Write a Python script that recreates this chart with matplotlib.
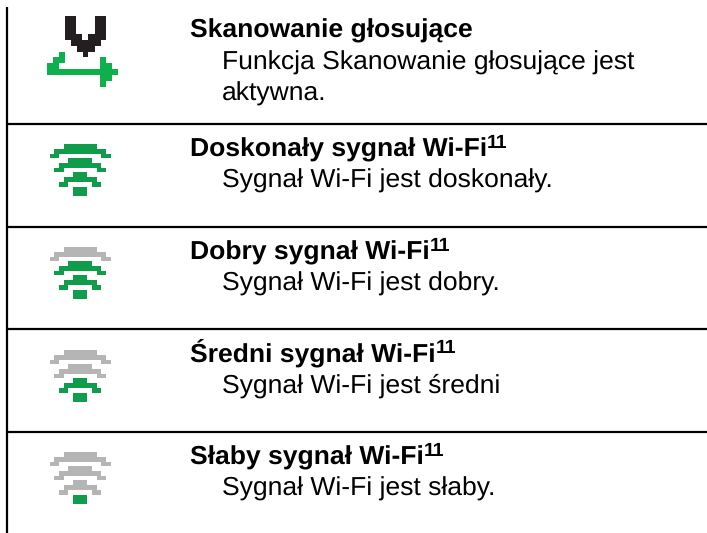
import matplotlib
matplotlib.use("Agg")
import matplotlib.pyplot as plt

# text of each table row
titles = ["Skanowanie głosujące", "Doskonały sygnał Wi-Fi", "Dobry sygnał Wi-Fi",
          "Średni sygnał Wi-Fi", "Słaby sygnał Wi-Fi"]
bodies = ["Funkcja Skanowanie głosujące jest\naktywna.", "Sygnał Wi-Fi jest doskonały.",
          "Sygnał Wi-Fi jest dobry.", "Sygnał Wi-Fi jest średni", "Sygnał Wi-Fi jest słaby."]
footnote = [None, "11", "11", "11", "11"]

title_y = [37, 156, 259, 361, 464]
body_y = [70, 188, 291, 393, 496]
rule_y = [124, 227, 329, 431.5]

# wifi icon, in pixels: (arc, top, height, [(left, width), ...])
wifi_rows = [
    (0, 0, 5, [(64, 33)]),
    (0, 5, 5, [(54, 52)]),
    (0, 10, 4, [(50, 9), (101, 10)]),
    (1, 14, 5, [(68, 24)]),
    (1, 19, 5, [(59, 42)]),
    (1, 24, 4, [(54, 10), (97, 9)]),
    (2, 28, 5, [(73, 14)]),
    (2, 33, 5, [(64, 33)]),
    (2, 38, 5, [(59, 9), (92, 9)]),
    (3, 43, 9, [(73, 14)]),
]
wifi_top = [144, 247, 350, 452]
wifi_lit = [0, 1, 2, 3]  # first arc that is green

# voice scan icon, in pixels: (top, height, [(left, width), ...])
voice_black = [
    (16, 18, [(65, 11), (95, 11)]),
    (34, 6, [(65, 17), (88, 18)]),
    (40, 6, [(71, 30)]),
    (46, 6, [(77, 18)]),
    (52, 5, [(83, 5)]),
]
voice_green = [
    (52, 5, [(59, 6)]),
    (57, 6, [(53, 12), (100, 6)]),
    (63, 6, [(47, 12), (100, 12)]),
    (69, 6, [(47, 71)]),
    (75, 6, [(100, 12)]),
    (81, 6, [(100, 6)]),
]

GREEN = "#0f9d4c"
GREY = "#b5b5b5"
VOICE_GREEN = "#0db04b"
VOICE_BLACK = "#231f20"

plt.rcParams["font.family"] = ["Liberation Sans", "DejaVu Sans"]
plt.rcParams["text.hinting"] = "no_hinting"

fig = plt.figure(figsize=(7.07, 5.33), dpi=100)
ax = fig.add_axes([0, 0, 1, 1])
ax.set_xlim(0, 707)
ax.set_ylim(533, 0)
ax.axis("off")

# table rules
ax.vlines(7, 7, 533, color="black", lw=1.6)
ax.hlines(rule_y, 6, 707, color="black", lw=1.6)

# voice icon
for top, h, spans in voice_black:
    ax.broken_barh(spans, (top, h), color=VOICE_BLACK, lw=0)
for top, h, spans in voice_green:
    ax.broken_barh(spans, (top, h), color=VOICE_GREEN, lw=0)

# wifi icons
for top0, lit in zip(wifi_top, wifi_lit):
    for arc, top, h, spans in wifi_rows:
        col = GREEN if arc >= lit else GREY
        ax.broken_barh(spans, (top0 + top, h), color=col, lw=0)

# texts
for i in range(len(titles)):
    t = ax.text(190, title_y[i], titles[i], fontsize=19.05, fontweight="bold",
                va="baseline", color="black")
    if footnote[i]:
        # bbox bottom of the title sits under the descenders
        ax.annotate(footnote[i], xy=(1, 0), xycoords=t, xytext=(0, 10),
                    textcoords="offset points", fontsize=14, fontweight="bold",
                    va="baseline", color="black")
    lines = bodies[i].split("\n")
    for j, line in enumerate(lines):
        ax.text(222, body_y[i] + j * 31, line, fontsize=19.05, va="baseline", color="black")

fig.savefig("out.png", dpi=100)
